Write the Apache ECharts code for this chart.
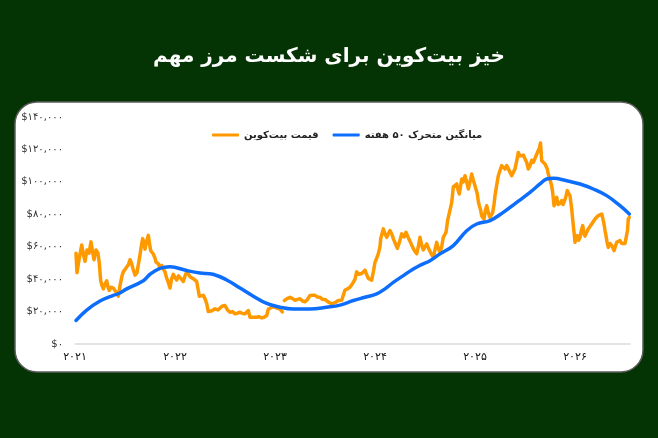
<!DOCTYPE html>
<html>
<head>
<meta charset="utf-8">
<script src="https://cdn.jsdelivr.net/npm/echarts@6/dist/echarts.min.js"></script>
<style>
html,body{margin:0;padding:0;background:#043404;}
#c{width:658px;height:438px;}
</style>
</head>
<body>
<div id="c"></div>
<script>
const titleText = 'خیز بیت‌کوین برای شکست مرز مهم';
const seriesNames = ['قیمت بیت‌کوین', 'میانگین متحرک ۵۰ هفته'];
const yearTicks = [2021, 2022, 2023, 2024, 2025, 2026];
const yearLabels = ['۲۰۲۱', '۲۰۲۲', '۲۰۲۳', '۲۰۲۴', '۲۰۲۵', '۲۰۲۶'];

const priceDates = [
2021.010,2021.020,2021.040,2021.067,2021.085,2021.100,2021.120,2021.140,2021.160,2021.175,2021.190,2021.210,2021.230,2021.243,2021.257,2021.270,2021.283,2021.300,2021.317,2021.330,2021.343,2021.360,2021.383,2021.410,2021.433,2021.450,2021.470,2021.483,2021.500,2021.517,2021.535,2021.550,2021.565,2021.577,2021.600,2021.620,2021.633,2021.650,2021.665,2021.677,2021.690,2021.700,2021.715,2021.733,2021.745,2021.757,2021.770,2021.783,2021.800,2021.810,2021.833,2021.850,2021.867,2021.885,2021.900,2021.915,2021.933,2021.950,2021.965,2021.983,
2022.000,2022.017,2022.035,2022.050,2022.065,2022.083,2022.100,2022.117,2022.135,2022.150,2022.170,2022.190,2022.217,2022.233,2022.243,2022.260,2022.283,2022.300,2022.317,2022.333,2022.350,2022.370,2022.400,2022.430,2022.450,2022.475,2022.500,2022.525,2022.550,2022.575,2022.600,2022.625,2022.650,2022.675,2022.700,2022.733,2022.750,2022.767,2022.790,2022.817,2022.840,2022.867,2022.890,2022.917,2022.933,2022.950,2022.980,
2023.000,2023.025,2023.050,2023.073,2023.083,2023.093,2023.120,2023.150,2023.175,2023.200,2023.225,2023.250,2023.275,2023.300,2023.325,2023.350,2023.375,2023.400,2023.425,2023.450,2023.475,2023.500,2023.530,2023.567,2023.600,2023.633,2023.667,2023.700,2023.725,2023.750,2023.783,2023.800,2023.817,2023.840,2023.867,2023.900,2023.915,2023.933,2023.967,2023.985,
2024.000,2024.017,2024.033,2024.050,2024.057,2024.070,2024.083,2024.100,2024.117,2024.133,2024.150,2024.167,2024.183,2024.203,2024.223,2024.245,2024.267,2024.290,2024.310,2024.330,2024.343,2024.360,2024.377,2024.395,2024.417,2024.433,2024.450,2024.467,2024.483,2024.500,2024.517,2024.535,2024.550,2024.567,2024.583,2024.600,2024.617,2024.633,2024.650,2024.667,2024.683,2024.710,2024.727,2024.740,2024.755,2024.767,2024.775,2024.783,2024.800,2024.817,2024.830,2024.843,2024.855,2024.867,2024.883,2024.900,2024.917,2024.933,2024.950,2024.967,2024.983,
2025.000,2025.012,2025.023,2025.033,2025.043,2025.055,2025.067,2025.080,2025.090,2025.103,2025.117,2025.133,2025.150,2025.163,2025.177,2025.190,2025.200,2025.217,2025.233,2025.250,2025.267,2025.283,2025.300,2025.317,2025.333,2025.350,2025.367,2025.383,2025.400,2025.417,2025.433,2025.450,2025.467,2025.483,2025.500,2025.517,2025.533,2025.550,2025.567,2025.583,2025.600,2025.617,2025.633,2025.645,2025.655,2025.667,2025.683,2025.700,2025.723,2025.733,2025.750,2025.765,2025.777,2025.790,2025.803,2025.817,2025.830,2025.843,2025.855,2025.867,2025.880,2025.890,2025.905,2025.923,2025.935,2025.950,2025.967,2025.975,2025.983,2025.992,
2026.000,2026.010,2026.023,2026.037,2026.050,2026.063,2026.077,2026.090,2026.100,2026.117,2026.133,2026.150,2026.167,2026.183,2026.200,2026.217,2026.233,2026.250,2026.267,2026.280,2026.290,2026.300,2026.310,2026.320,2026.333,2026.350,2026.367,2026.380,2026.390,2026.403,2026.417,2026.433,2026.450,2026.467,2026.483,2026.500,2026.517,2026.525,2026.533,2026.543
];
const priceValues = [
56000,44000,52000,61000,55000,51000,58000,56000,63000,57000,52000,58000,56000,50000,39000,36000,34000,37000,39000,35000,33000,35000,34500,32000,29500,36000,42000,44500,46000,47500,49000,52000,50000,47000,42500,44000,45000,55000,61000,65000,62000,58500,63000,67000,62000,57500,58000,55500,53000,50500,49500,47000,48500,46000,44500,41000,38000,34500,40000,43000,
41000,39500,42000,43000,40000,38500,42000,44500,43000,41500,42000,40000,38500,33000,29500,30000,30000,28000,25000,20000,19600,20500,21700,21000,20600,23500,23700,21000,19600,20000,18600,19000,19600,18800,18600,20600,16500,16000,16500,16500,16800,16100,16500,17600,21500,21700,23000,
22700,22000,21500,19800,null,26800,28000,28800,28000,27000,27500,27900,26500,26000,27500,29900,30000,30000,29000,28800,27500,27500,26000,24800,25500,26800,27000,33300,34000,35000,38000,40000,44500,43000,43500,45500,43000,40500,39400,45000,
50400,53000,55600,60000,65000,68000,71000,68000,65800,68000,70000,68000,65000,62000,59000,63000,67900,66000,68900,66000,65000,62000,59600,57500,55600,60000,65800,61000,58000,60000,61700,59000,58000,55000,53500,58000,62700,59000,56500,60000,65800,68900,76400,80000,84000,87300,92000,96900,98000,98700,95000,92500,97000,101800,100000,103800,100000,95600,100000,104800,101000,
97600,95000,92500,88000,85300,83000,79000,78500,77000,82000,85300,81000,78000,79000,81200,86000,91500,98000,103800,107000,110000,109000,107900,110000,108900,106000,103800,105000,108000,113000,118100,116000,115100,116500,117200,112000,107900,110000,113300,112000,111000,117000,118000,121000,124000,113000,112000,111000,107900,104800,103800,98000,93500,85300,88000,90400,86000,85300,87000,88400,86000,86400,90000,94600,93000,91500,83300,78000,73000,68000,
62700,65000,66800,64000,65800,70000,73000,68000,66500,69000,71000,72000,74000,75000,77100,78000,79200,78000,80200,77000,74000,70000,66800,63000,59600,62000,60700,59000,57600,60000,62700,61500,63800,62000,62700,62000,62700,70000,77100,78100
];

const maDates = [
2021.010,2021.117,2021.250,2021.383,2021.433,2021.517,2021.683,2021.750,2021.850,2021.950,2022.117,2022.250,2022.380,2022.517,2022.650,2022.783,2022.917,2023.050,2023.183,2023.350,2023.517,2023.650,2023.783,2023.900,2024.017,2024.100,2024.183,2024.280,2024.383,2024.460,2024.550,2024.650,2024.783,2024.917,2025.017,2025.150,2025.283,2025.417,2025.550,2025.650,2025.717,2025.783,2025.917,2026.050,2026.183,2026.317,2026.450,2026.543
];
const maValues = [
14500,20900,26500,30000,31000,34000,39000,43000,46600,47600,45300,43800,43000,39500,34500,29500,25000,22700,21600,21600,22700,24000,26800,28800,30900,34000,38000,42000,46300,48800,51400,55600,60700,69900,74000,76100,81200,87300,93500,98700,101800,102200,100700,98700,95600,91500,85300,80200
];

const faDigits = ['۰','۱','۲','۳','۴','۵','۶','۷','۸','۹'];
function toFa(s){ return String(s).replace(/[0-9]/g, d => faDigits[+d]); }

const priceData = priceDates.map((d,i)=>[d, priceValues[i]]);
const maData = maDates.map((d,i)=>[d, maValues[i]]);

const FONT = 'DejaVu Sans';
const chart = echarts.init(document.getElementById('c'));
chart.setOption({
  backgroundColor: '#043404',
  animation: false,
  textStyle: { fontFamily: FONT },
  title: {
    text: titleText,
    left: 'center',
    top: 42,
    textStyle: { color: '#ffffff', fontSize: 20, fontWeight: 'bold', fontFamily: FONT }
  },
  graphic: [{
    type: 'rect',
    z: -10,
    shape: { x: 15, y: 102, width: 628, height: 270, r: 22 },
    style: { fill: '#ffffff', stroke: '#5c5c5c', lineWidth: 1.5 }
  }],
  legend: {
    left: 207,
    top: 125,
    itemGap: 14,
    icon: 'roundRect',
    itemWidth: 27,
    itemHeight: 3,
    data: [seriesNames[0], seriesNames[1]],
    textStyle: { fontSize: 10, fontWeight: 'bold', color: '#222', fontFamily: FONT }
  },
  grid: { left: 75, right: 28, top: 117, bottom: 94 },
  xAxis: {
    type: 'value',
    min: 2021,
    max: 2026.55,
    interval: 1,
    axisLine: { show: true, lineStyle: { color: '#dcdcdc', width: 1.5 } },
    axisTick: { show: false },
    splitLine: { show: false },
    axisLabel: {
      margin: 8,
      fontSize: 11,
      color: '#111',
      fontFamily: FONT,
      formatter: v => {
        const idx = yearTicks.findIndex(t => Math.abs(t - v) < 1e-6);
        return idx >= 0 ? yearLabels[idx] : '';
      }
    }
  },
  yAxis: {
    type: 'value',
    min: 0,
    max: 140000,
    interval: 20000,
    axisLine: { show: false },
    axisTick: { show: false },
    splitLine: { show: false },
    axisLabel: {
      margin: 12,
      fontSize: 10,
      color: '#333',
      fontFamily: FONT,
      formatter: v => '$' + toFa(v.toLocaleString('en-US'))
    }
  },
  series: [
    {
      name: seriesNames[0],
      type: 'line',
      data: priceData,
      symbol: 'none',
      connectNulls: false,
      lineStyle: { color: '#ff9900', width: 3.5, join: 'round', cap: 'round' },
      itemStyle: { color: '#ff9900' },
      z: 2
    },
    {
      name: seriesNames[1],
      type: 'line',
      data: maData,
      symbol: 'none',
      smooth: 0.4,
      lineStyle: { color: '#0d6efd', width: 3.5, cap: 'round' },
      itemStyle: { color: '#0d6efd' },
      z: 3
    }
  ]
});
</script>
</body>
</html>
